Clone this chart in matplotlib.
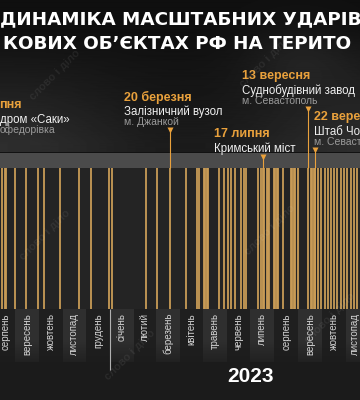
import numpy as np
import matplotlib
matplotlib.use("Agg")
import matplotlib.pyplot as plt
import matplotlib.dates as mdates
from matplotlib.colors import LinearSegmentedColormap

plt.rcParams['font.family'] = ['Liberation Sans', 'DejaVu Sans']

# --- data ---
title_lines = ["ДИНАМІКА МАСШТАБНИХ УДАРІВ", "КОВИХ ОБ’ЄКТАХ РФ НА ТЕРИТО"]

strike_dates = [
    "2022-08-15", "2022-08-18", "2022-08-20", "2022-09-01", "2022-09-15",
    "2022-09-30", "2022-10-08", "2022-10-29", "2022-11-22", "2022-12-07",
    "2022-12-31", "2023-01-03", "2023-02-16", "2023-03-02", "2023-03-20",
    "2023-04-09", "2023-04-23", "2023-04-26", "2023-05-02", "2023-05-04",
    "2023-05-06", "2023-05-08", "2023-05-22", "2023-05-28", "2023-06-02",
    "2023-06-06", "2023-06-11", "2023-06-19", "2023-06-23", "2023-06-26",
    "2023-07-11", "2023-07-15", "2023-07-17", "2023-07-19", "2023-07-22",
    "2023-07-24", "2023-07-25", "2023-07-31", "2023-08-02", "2023-08-04",
    "2023-08-06", "2023-08-12", "2023-08-22", "2023-08-24", "2023-08-26",
    "2023-08-28", "2023-08-31", "2023-09-13", "2023-09-17", "2023-09-19",
    "2023-09-21", "2023-09-22", "2023-09-23", "2023-09-26", "2023-09-30",
    "2023-10-06", "2023-10-09", "2023-10-13", "2023-10-17", "2023-10-21",
    "2023-10-26", "2023-10-30", "2023-11-03", "2023-11-08", "2023-11-12",
    "2023-11-16",
]

month_names = ["серпень", "вересень", "жовтень", "листопад", "грудень",
               "січень", "лютий", "березень", "квітень", "травень", "червень",
               "липень", "серпень", "вересень", "жовтень", "листопад"]
first_month = "2022-08"
year_label = "2023"

# texts of the first and last events are cut by the picture frame, as in the reference
event_dates = ["2022-08-09", "2023-03-20", "2023-07-17", "2023-09-13", "2023-09-22"]
event_heads = ["пня", "20 березня", "17 липня", "13 вересня", "22 вере"]
event_names = ["дром «Саки»", "Залізничний вузол", "Кримський міст",
               "Суднобудівний завод", "Штаб Чо"]
event_places = ["офедорівка", "м. Джанкой", "", "м. Севастополь", "м. Севаст"]

# layout (pixels)
ev_dx = [2, -46, -49, -66, -1]
ev_y = [105, 97, 134, 76, 117]

GOLD = "#c99c56"
ORANGE = "#e9a13c"

fig = plt.figure(figsize=(3.6, 4.0), dpi=100)
fig.patch.set_facecolor("#121212")
ax = fig.add_axes([0, 0, 1, 1])
ax.set_facecolor("#121212")

jan1 = mdates.date2num(np.datetime64("2023-01-01"))
ppd = 0.775  # pixels per day
x_left = jan1 - 110 / ppd
x_right = jan1 + 250 / ppd
ax.set_xlim(x_left, x_right)
ax.set_ylim(400, 0)
ax.axis("off")

# smoky background at the top
yy, xx = np.mgrid[0:160, 0:360]
smoke = 0.06 + 0.12 * np.clip((yy - 30) / 120, 0, 1) * (0.7 + 0.3 * np.cos(xx / 60.0))
smoke += 0.05 * np.exp(-((xx - 300) ** 2) / 3000 - ((yy - 60) ** 2) / 1500)
cmap = LinearSegmentedColormap.from_list("smk", ["#000000", "#ffffff"])
ax.imshow(smoke, cmap=cmap, vmin=0, vmax=1, extent=(x_left, x_right, 152, 0),
          aspect="auto", zorder=0)

# grey header band and strip
ax.fill_between([x_left, x_right], 153, 168, color="#4b4b4b", zorder=1, lw=0)
ax.fill_between([x_left, x_right], 168, 309, color="#242424", zorder=1, lw=0)
ax.fill_between([x_left, x_right], 309, 400, color="#1b1b1b", zorder=1, lw=0)

# month bands + labels
months = np.arange(np.datetime64(first_month), np.datetime64(first_month) + len(month_names) + 1)
mnum = mdates.date2num(months.astype("datetime64[D]"))
lo = x_left + 5.5 / ppd
hi = x_right - 5.5 / ppd
for i, name in enumerate(month_names):
    col = "#2f2f2f" if i % 2 else "#1f1f1f"
    ax.fill_between([mnum[i], mnum[i + 1]], 309, 362, color=col, zorder=2, lw=0)
    xc = min(max((mnum[i] + mnum[i + 1]) / 2, lo), hi)
    ax.text(xc, 313, name, rotation=90, ha="center", va="top",
            color="#d2d2d2", fontsize=7, zorder=5)
grad = np.linspace(0, 1, 50)[:, None]
ax.imshow(grad, cmap=LinearSegmentedColormap.from_list("fd", [(0.106, 0.106, 0.106, 0), (0.106, 0.106, 0.106, 1)]),
          extent=(x_left, x_right, 372, 340), aspect="auto", zorder=3)

# year separator
ax.vlines(jan1, 309, 370, color="#b0b0b0", lw=0.8, zorder=4)

# strikes
sd = mdates.date2num(np.array(strike_dates, dtype="datetime64[D]"))
ax.vlines(sd, 168, 309, color=GOLD, lw=1.3, zorder=3)

# events
ed = mdates.date2num(np.array(event_dates, dtype="datetime64[D]"))
for i in range(len(event_dates)):
    y0 = ev_y[i]
    kw = dict(xycoords="data", textcoords="offset pixels", ha="left", va="center",
              zorder=6, annotation_clip=False)
    ax.annotate(event_heads[i], xy=(ed[i], y0), xytext=(ev_dx[i], 0), color=ORANGE,
                fontsize=9, fontweight="bold", **kw)
    ax.annotate(event_names[i], xy=(ed[i], y0 + 15), xytext=(ev_dx[i], 0), color="#f0f0f0",
                fontsize=8.3, **kw)
    if event_places[i]:
        ax.annotate(event_places[i], xy=(ed[i], y0 + 25), xytext=(ev_dx[i], 0), color="#9a9a9a",
                    fontsize=7.5, **kw)
        ty = y0 + 33
    else:
        ty = y0 + 23
    if ed[i] > x_left:
        ax.vlines(ed[i], ty, 168, color=ORANGE, lw=0.8, zorder=4)
        ax.plot([ed[i]], [ty], marker="v", ms=4, color=ORANGE, zorder=5, mec="none")

# title
tkw = dict(transform=ax.transAxes, ha="left", va="center", color="white",
           fontsize=13.2, fontweight="bold", family="DejaVu Sans", zorder=6)
ax.text(0.0, 1 - 19 / 400, title_lines[0], **tkw)
ax.text(3 / 360, 1 - 44 / 400, title_lines[1], **tkw)

ax.text(mdates.date2num(np.datetime64("2023-07-01")), 376, year_label, ha="center", va="center",
        color="white", fontsize=15, fontweight="bold", zorder=6)

# watermarks
for wx, wy in [(55, 75), (45, 235), (130, 355), (270, 230), (330, 318), (265, 62)]:
    fig.text(wx / 360, 1 - wy / 400, "слово і діло", rotation=45, ha="center", va="center",
             color="white", alpha=0.07, fontsize=8, fontweight="bold")

fig.savefig("out.png", dpi=100, facecolor=fig.get_facecolor())
